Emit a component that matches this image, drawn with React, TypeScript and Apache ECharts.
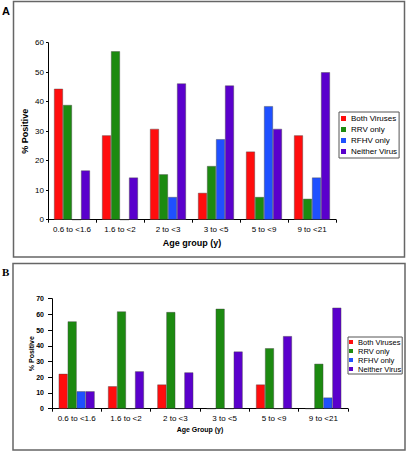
import React, { useEffect, useRef } from "react";
import * as echarts from "echarts";

const categories = ["0.6 to <1.6", "1.6 to <2", "2 to <3", "3 to <5", "5 to <9", "9 to <21"];
const seriesNames = ["Both Viruses", "RRV only", "RFHV only", "Neither Virus"];
const colors = ["#ff0d0d", "#1c8a10", "#1f50ff", "#5a00cc"];

// Panel A
const aBoth = [44.4, 28.6, 30.8, 9.1, 23.1, 28.6];
const aRrv = [38.9, 57.1, 15.4, 18.2, 7.7, 7.1];
const aRfhv = [0, 0, 7.7, 27.3, 38.5, 14.3];
const aNeither = [16.7, 14.3, 46.2, 45.5, 30.8, 50.0];

// Panel B
const bBoth = [22.2, 14.3, 15.4, 0, 15.4, 0];
const bRrv = [55.6, 61.9, 61.5, 63.6, 38.5, 28.6];
const bRfhv = [11.1, 0, 0, 0, 0, 7.1];
const bNeither = [11.1, 23.8, 23.1, 36.4, 46.2, 64.3];

const aYTicks = { min: 0, max: 60, interval: 10 };
const bYTicks = { min: 0, max: 70, interval: 10 };

const FONT = "Liberation Sans";

export default function App() {
  const ref = useRef<HTMLDivElement>(null);
  useEffect(() => {
    document.body.style.margin = "0";
    const chart = echarts.init(ref.current!, null, { renderer: "svg" });
    const aData = [aBoth, aRrv, aRfhv, aNeither];
    const bData = [bBoth, bRrv, bRfhv, bNeither];
    const mkSeries = (data: number[][], idx: number) =>
      data.map((d, i) => ({
        type: "bar",
        name: seriesNames[i],
        xAxisIndex: idx,
        yAxisIndex: idx,
        data: d,
        barWidth: 9,
        barGap: "0%",
        itemStyle: { color: colors[i], borderColor: "rgba(70,70,70,0.7)", borderWidth: 0.6 },
      }));
    const axisLine = { show: true, lineStyle: { color: "#000", width: 1 } };
    const axisTick = { show: true, length: 3, lineStyle: { color: "#000", width: 1 } };
    chart.setOption({
      animation: false,
      grid: [
        { left: 48, top: 42.7, width: 288, height: 177 },
        { left: 52, top: 298.7, width: 296, height: 110 },
      ],
      xAxis: [
        {
          type: "category",
          gridIndex: 0,
          data: categories,
          axisLine,
          axisTick,
          axisLabel: { color: "#000", fontSize: 8, fontFamily: FONT, margin: 6, interval: 0 },
          name: "Age group (y)",
          nameLocation: "middle",
          nameGap: 19,
          nameMoveOverlap: false,
          nameTextStyle: { color: "#000", fontSize: 9, fontWeight: "bold", fontFamily: FONT },
        },
        {
          type: "category",
          gridIndex: 1,
          data: categories,
          axisLine,
          axisTick,
          axisLabel: { color: "#000", fontSize: 8, fontFamily: FONT, margin: 6, interval: 0 },
          name: "Age Group (y)",
          nameLocation: "middle",
          nameGap: 17,
          nameMoveOverlap: false,
          nameTextStyle: { color: "#000", fontSize: 7, fontWeight: "bold", fontFamily: FONT },
        },
      ],
      yAxis: [
        {
          type: "value",
          gridIndex: 0,
          ...aYTicks,
          axisLine,
          axisTick: { ...axisTick, length: 2 },
          splitLine: { show: false },
          axisLabel: { color: "#000", fontSize: 8, fontFamily: FONT, margin: 4 },
          name: "% Positive",
          nameLocation: "middle",
          nameGap: 18.5,
          nameMoveOverlap: false,
          nameTextStyle: { color: "#000", fontSize: 9, fontWeight: "bold", fontFamily: FONT },
        },
        {
          type: "value",
          gridIndex: 1,
          ...bYTicks,
          axisLine,
          axisTick: { ...axisTick, length: 4 },
          splitLine: { show: false },
          axisLabel: { color: "#000", fontSize: 7, fontWeight: "bold", fontFamily: FONT, margin: 8 },
          name: "% Positive",
          nameLocation: "middle",
          nameGap: 17.5,
          nameMoveOverlap: false,
          nameTextStyle: { color: "#000", fontSize: 7, fontWeight: "bold", fontFamily: FONT },
        },
      ],
      legend: [
        {
          data: seriesNames,
          orient: "vertical",
          left: 339,
          top: 112,
          itemWidth: 5,
          itemHeight: 5,
          itemGap: 2,
          padding: [2, 2, 2, 2],
          borderColor: "#555",
          borderWidth: 1,
          icon: "rect",
          selectedMode: false,
          itemStyle: { borderWidth: 0 },
          textStyle: { color: "#000", fontSize: 8, fontFamily: FONT, lineHeight: 9 },
        },
        {
          data: seriesNames,
          orient: "vertical",
          left: 348,
          top: 337,
          itemWidth: 4,
          itemHeight: 4,
          itemGap: 1,
          padding: [1, 1, 1, 1],
          borderColor: "#555",
          borderWidth: 1,
          icon: "rect",
          selectedMode: false,
          itemStyle: { borderWidth: 0 },
          textStyle: { color: "#000", fontSize: 7.5, fontFamily: FONT, lineHeight: 7.7 },
        },
      ],
      graphic: [
        {
          type: "rect",
          shape: { x: 13.5, y: 1.5, width: 391, height: 255.5 },
          style: { fill: "none", stroke: "#666", lineWidth: 1.5 },
          silent: true,
        },
        {
          type: "rect",
          shape: { x: 13, y: 263.5, width: 392, height: 186.5 },
          style: { fill: "none", stroke: "#666", lineWidth: 1.5 },
          silent: true,
        },
        {
          type: "text",
          x: 2,
          y: 5,
          style: { text: "A", font: "bold 11px 'Liberation Sans'", fill: "#000" },
        },
        {
          type: "text",
          x: 2,
          y: 266,
          style: { text: "B", font: "bold 11px 'Liberation Serif'", fill: "#000" },
        },
      ],
      series: [...mkSeries(aData, 0), ...mkSeries(bData, 1)],
    });
    return () => chart.dispose();
  }, []);
  return <div ref={ref} style={{ width: 407, height: 452 }} />;
}
